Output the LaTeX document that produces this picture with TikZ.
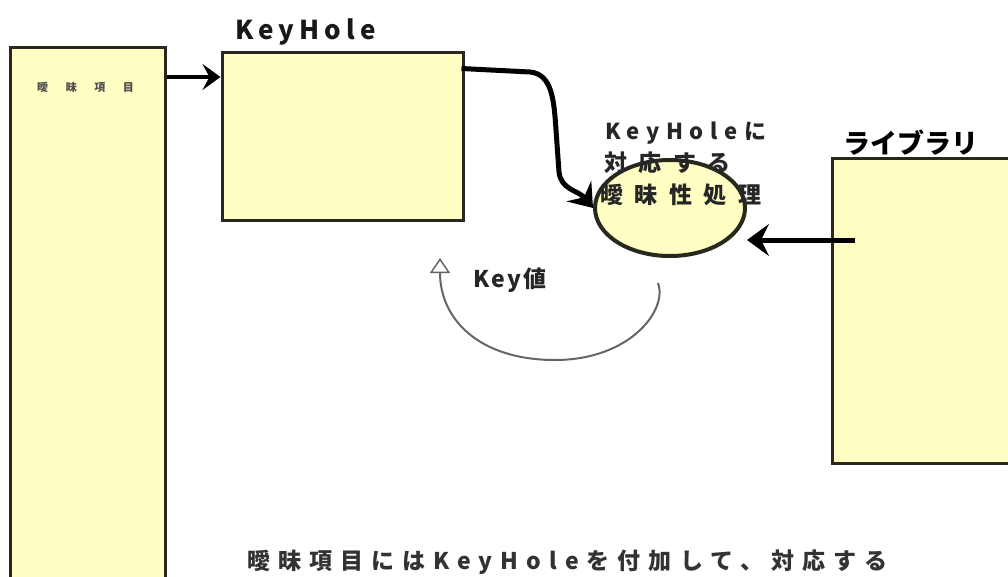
\documentclass[tikz,border=0pt]{standalone}
\usepackage{fontspec}
\newfontfamily\jp{Noto Sans CJK JP}
\newfontfamily\jpsp{Noto Sans CJK JP}[LetterSpace=35]
\newfontfamily\jpsa{Noto Sans CJK JP}[LetterSpace=20]
\newfontfamily\jpsc{Noto Sans CJK JP}[LetterSpace=30]
\newfontfamily\jpsb{Noto Sans CJK JP}[LetterSpace=50]
\newfontfamily\jpsw{Noto Sans CJK JP}[LetterSpace=160]
\newfontfamily\jpsn{Noto Sans CJK JP}[LetterSpace=10]
\usetikzlibrary{shapes.geometric,arrows.meta,calc}
\definecolor{boxfill}{RGB}{255,255,196}
\definecolor{boxline}{RGB}{40,40,30}
\tikzset{
  ybox/.style={draw=boxline,line width=3pt,fill=boxfill,inner sep=0pt},
  thick arrow/.style={line width=5pt,-{Stealth[length=22pt,width=32pt,inset=8pt]}},
  lbl/.style={inner sep=0pt,anchor=west}
}
\begin{document}
\begin{tikzpicture}[x=1pt,y=-1pt]
\useasboundingbox (0,0) rectangle (1008,576);
\clip (0,0) rectangle (1008,576);
\fill[white] (0,0) rectangle (1008,576);
% boxes
\node[ybox,minimum width=155pt,minimum height=550pt] (items) at (87.5,322) {};
\node[ybox,minimum width=241pt,minimum height=168pt] (kh) at (342.5,136) {};
\node[ybox,minimum width=190pt,minimum height=305pt] (lib) at (927,310.5) {};
\node[ybox,ellipse,line width=4pt,minimum width=150pt,minimum height=96pt] (proc) at (670,208) {};
% labels
\node[lbl,font=\jpsw\fontsize{11}{12}\selectfont\bfseries,text=black!70] (itl) at (37,87) {曖昧項目};
\node[lbl,font=\jpsa\fontsize{26}{28}\selectfont\bfseries,text=black!90] (khl) at (235,32) {KeyHole};
\node[lbl,font=\jp\fontsize{27}{30}\selectfont\bfseries] (libl) at (843,143) {ライブラリ};
\node[lbl,font=\jpsc\fontsize{22}{24}\selectfont\bfseries,text=black!85] (pl1) at (605,133) {KeyHoleに};
\node[lbl,font=\jpsb\fontsize{23}{26}\selectfont\bfseries,text=black!85] (pl2) at (604,163) {対応する};
\node[lbl,font=\jpsb\fontsize{23}{26}\selectfont\bfseries,text=black!85] (pl3) at (600,195) {曖昧性処理};
\node[lbl,font=\jpsn\fontsize{23}{26}\selectfont\bfseries,text=black!85] (keyl) at (473,280) {Key値};
\node[lbl,font=\jpsp\fontsize{23}{26}\selectfont\bfseries,text=black!80] (bot) at (247,562) {曖昧項目にはKeyHoleを付加して、対応する};
% connectors
\coordinate (a1) at (items.east |- 0,77);
\draw[line width=4.5pt,-{Stealth[length=18pt,width=26pt,inset=7pt]}] (a1) -- (kh.west |- a1);
\coordinate (c1) at ($(kh.north east)+(-3,18)$);
\draw[thick arrow] (c1) -- (530,72) .. controls (552,74) and (554,100) .. (556,130)
   -- (559,172) .. controls (561,190) and (578,190) .. (proc.west);
\coordinate (l1) at (855,240);
\draw[thick arrow] (l1) -- (proc.east |- l1);
\coordinate (k0) at (658,283);
\coordinate (k1) at (440,258);
\draw[gray!80!black,line width=2pt,-{Triangle[open,length=15pt,width=20pt,line width=1.5pt]}]
  (k0) .. controls (668,310) and (630,360) .. (555,360)
  .. controls (480,360) and (440,320) .. (k1);
\end{tikzpicture}
\end{document}
